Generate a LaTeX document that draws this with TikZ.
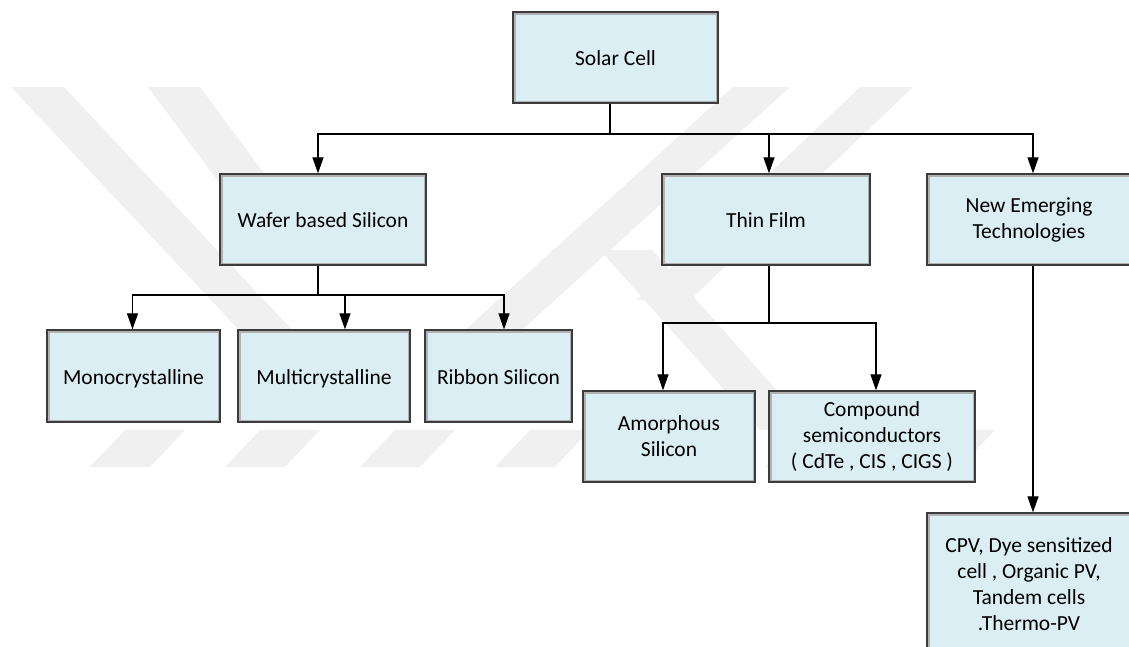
\documentclass[tikz,border=0pt]{standalone}
\usepackage{fontspec}
\setmainfont{Carlito}
\usepackage{tikz}
\usetikzlibrary{arrows.meta,positioning,calc}
\definecolor{boxfill}{RGB}{219,238,244}
\definecolor{boxline}{RGB}{60,60,60}
\definecolor{wmark}{RGB}{240,240,240}
\tikzset{
  cell/.style={draw=boxline, line width=1.3pt, fill=boxfill, align=center, inner sep=2pt,
    font=\fontsize{21.5}{26}\selectfont, minimum height=91pt,
    path picture={\draw[line width=5pt, black!30] (path picture bounding box.south west) rectangle (path picture bounding box.north east);}},
  oneline/.style={text height=18pt, text depth=2pt},
  link/.style={draw, line width=1.2pt},
  arr/.style={link, -{Triangle[length=16pt,width=11pt]}},
  wm/.style={fill=wmark, draw=none}
}

\begin{document}
\begin{tikzpicture}[x=1pt, y=-1pt]
\useasboundingbox (0,0) rectangle (1129,646);
% watermark
\fill[wm] (11,87) -- (64,87) -- (292,330) -- (239,330) -- cycle;
\fill[wm] (148,87) -- (200,87) -- (330,262) -- (278,262) -- cycle;
\fill[wm] (733,87) -- (790,87) -- (522,330) -- (465,330) -- cycle;
\fill[wm] (860,87) -- (913,87) -- (690,300) -- (637,300) -- cycle;
\fill[wm] (600,250) -- (652,250) -- (812,430) -- (760,430) -- cycle;
\foreach \x in {90,225,360,495,630,765,900}
  \fill[wm] (\x,467) -- (\x+60,467) -- (\x+95,430) -- (\x+35,430) -- cycle;

% boxes
\node[cell, oneline, minimum width=205pt] (solar) at (615.5,57.5) {Solar Cell};
\node[cell, oneline, minimum width=206pt] (wafer) at (323,219.5) {Wafer based Silicon};
\node[cell, oneline, minimum width=208pt] (thin) at (766,219.5) {Thin Film};
\node[cell, minimum width=204pt] (emerg) at (1029,219.5) {New Emerging\\Technologies};
\node[cell, oneline, minimum width=173pt, minimum height=92pt] (mono) at (133.5,376) {Monocrystalline};
\node[cell, oneline, minimum width=172pt, minimum height=92pt] (multi) at (324,376) {Multicrystalline};
\node[cell, oneline, minimum width=147pt, minimum height=92pt] (ribbon) at (498.5,376) {Ribbon Silicon};
\node[cell, minimum width=172pt] (amorph) at (669,436.5) {Amorphous\\Silicon};
\node[cell, minimum width=206pt] (compound) at (872,436.5) {Compound\\semiconductors\\( CdTe , CIS , CIGS )};
\node[cell, minimum width=204pt, minimum height=142pt] (cpv) at (1029,584) {CPV, Dye sensitized\\cell , Organic PV,\\Tandem cells\\.Thermo-PV};

% connectors
\coordinate (bus) at (610,134);
\coordinate (wbus) at (318,295);
\coordinate (tbus) at (769,323);
\draw[link] ([xshift=-5.5pt]solar.south) -- (bus);
\draw[arr] (bus) -| ([xshift=-5pt]wafer.north);
\draw[arr] (bus) -| ([xshift=3pt]thin.north);
\draw[arr] (bus) -| ([xshift=4pt]emerg.north);
\draw[link] ([xshift=-5pt]wafer.south) -- (wbus);
\draw[arr] (wbus) -| ([xshift=-1pt]mono.north);
\draw[arr] (wbus) -| ([xshift=21pt]multi.north);
\draw[arr] (wbus) -| ([xshift=5.5pt]ribbon.north);
\draw[link] ([xshift=3pt]thin.south) -- (tbus);
\draw[arr] (tbus) -| ([xshift=-6pt]amorph.north);
\draw[arr] (tbus) -| ([xshift=4pt]compound.north);
\draw[arr] ([xshift=4pt]emerg.south) -- ([xshift=4pt]cpv.north);
\end{tikzpicture}
\end{document}
